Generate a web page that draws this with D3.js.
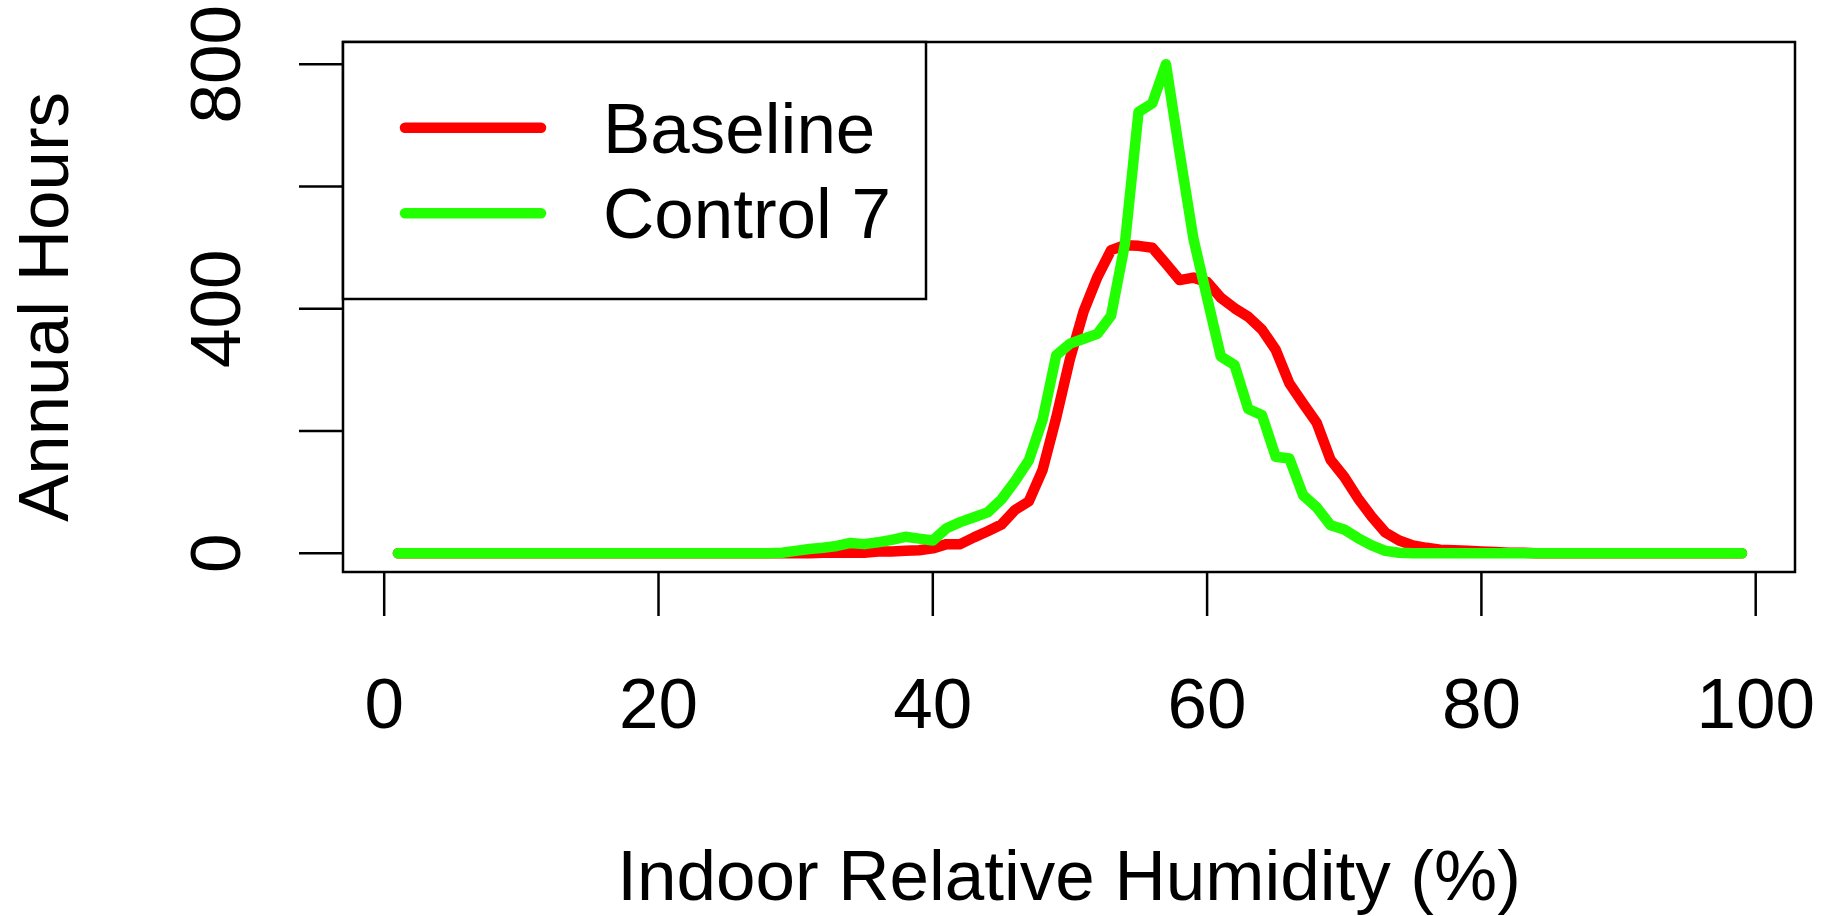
<!DOCTYPE html>
<html>
<head>
<meta charset="utf-8">
<script src="https://cdn.jsdelivr.net/npm/d3@7"></script>
<style>
  body { margin: 0; background: #fff; }
  text { font-family: "Liberation Sans", Arial, Helvetica, sans-serif; fill: #000; }
</style>
</head>
<body>
<div id="chart"></div>
<script>
// Humidity bins 1..99 (%)
const humidity = d3.range(1, 100);

// Baseline hours per humidity bin
const baseline = [
  0, 0, 0, 0, 0, 0, 0, 0, 0, 0,          // 1-10
  0, 0, 0, 0, 0, 0, 0, 0, 0, 0,          // 11-20
  0, 0, 0, 0, 0, 0, 0, 0, 0, 0,          // 21-30
  0, 1, 1, 1, 1, 3, 3, 4, 5, 8,          // 31-40
  15, 15, 26, 36, 47, 71, 85, 136, 222, 318,   // 41-50
  396, 452, 496, 504, 503, 500, 474, 447, 451, 444, // 51-60
  418, 401, 387, 366, 333, 278, 245, 213, 153, 125, // 61-70
  90, 60, 34, 21, 13, 9, 6, 5, 4, 3,     // 71-80
  2, 1, 1, 0, 0, 0, 0, 0, 0, 0,          // 81-90
  0, 0, 0, 0, 0, 0, 0, 0, 0              // 91-99
];

// Control 7 hours per humidity bin
const control7 = [
  0, 0, 0, 0, 0, 0, 0, 0, 0, 0,
  0, 0, 0, 0, 0, 0, 0, 0, 0, 0,
  0, 0, 0, 0, 0, 0, 0, 0, 1, 4,
  7, 9, 12, 17, 15, 18, 22, 27, 24, 21,
  41, 51, 59, 67, 88, 118, 152, 218, 324, 343,
  351, 359, 389, 505, 722, 736, 800, 655, 515, 418,
  322, 308, 236, 226, 158, 155, 95, 75, 46, 39,
  25, 13, 4, 1, 0, 0, 0, 0, 0, 0,
  0, 0, 0, 0, 0, 0, 0, 0, 0, 0,
  0, 0, 0, 0, 0, 0, 0, 0, 0
];

const seriesNames = ["Baseline", "Control 7"];
const seriesColors = ["#ff0000", "#22ff00"];
const xTicks = [0, 20, 40, 60, 80, 100];
const yTicks = [0, 200, 400, 600, 800];
const yLabels = [0, 400, 800];

const W = 1835, H = 916;
const frame = {left: 343, right: 1795, top: 42, bottom: 572};

const svg = d3.select("#chart")
    .append("svg")
    .attr("width", W)
    .attr("height", H);

const x = d3.scaleLinear().domain([0, 100]).range([384.2, 1755.7]);
const y = d3.scaleLinear().domain([0, 800]).range([553.3, 64.3]);

const line = d3.line()
    .x((d, i) => x(humidity[i]))
    .y(d => y(d));

// Curves (green on top)
[baseline, control7].forEach((vals, i) => {
    svg.append("path")
        .datum(vals)
        .attr("d", line)
        .attr("fill", "none")
        .attr("stroke", seriesColors[i])
        .attr("stroke-width", 10.5)
        .attr("stroke-linejoin", "round")
        .attr("stroke-linecap", "round");
});

// Plot frame
svg.append("rect")
    .attr("x", frame.left)
    .attr("y", frame.top)
    .attr("width", frame.right - frame.left)
    .attr("height", frame.bottom - frame.top)
    .attr("fill", "none")
    .attr("stroke", "#000")
    .attr("stroke-width", 2.5);

// X axis ticks and labels
const tickLen = 44;
svg.selectAll(".xtick")
    .data(xTicks)
    .join("line")
    .attr("x1", d => x(d)).attr("x2", d => x(d))
    .attr("y1", frame.bottom).attr("y2", frame.bottom + tickLen)
    .attr("stroke", "#000").attr("stroke-width", 2.5);

svg.selectAll(".xlab")
    .data(xTicks)
    .join("text")
    .attr("x", d => x(d))
    .attr("y", 728)
    .attr("text-anchor", "middle")
    .attr("font-size", 71)
    .text(d => d);

// Y axis ticks and labels (rotated, as in R)
svg.selectAll(".ytick")
    .data(yTicks)
    .join("line")
    .attr("x1", frame.left - tickLen).attr("x2", frame.left)
    .attr("y1", d => y(d)).attr("y2", d => y(d))
    .attr("stroke", "#000").attr("stroke-width", 2.5);

svg.selectAll(".ylab")
    .data(yLabels)
    .join("text")
    .attr("transform", d => `translate(240,${y(d)}) rotate(-90)`)
    .attr("text-anchor", "middle")
    .attr("font-size", 71)
    .text(d => d);

// Axis titles
svg.append("text")
    .attr("x", (frame.left + frame.right) / 2)
    .attr("y", 900)
    .attr("text-anchor", "middle")
    .attr("font-size", 71)
    .text("Indoor Relative Humidity (%)");

svg.append("text")
    .attr("transform", `translate(68,${(frame.top + frame.bottom) / 2}) rotate(-90)`)
    .attr("text-anchor", "middle")
    .attr("font-size", 71)
    .text("Annual Hours");

// Legend
const legend = svg.append("g");
legend.append("rect")
    .attr("x", frame.left)
    .attr("y", frame.top)
    .attr("width", 926 - frame.left)
    .attr("height", 299 - frame.top)
    .attr("fill", "#fff")
    .attr("stroke", "#000")
    .attr("stroke-width", 2.5);

seriesNames.forEach((name, i) => {
    const ly = 127.7 + i * 85.6;
    legend.append("line")
        .attr("x1", 405).attr("x2", 541)
        .attr("y1", ly).attr("y2", ly)
        .attr("stroke", seriesColors[i])
        .attr("stroke-width", 10.5)
        .attr("stroke-linecap", "round");
    legend.append("text")
        .attr("x", 603)
        .attr("y", ly + 25)
        .attr("font-size", 71)
        .text(name);
});
</script>
</body>
</html>
